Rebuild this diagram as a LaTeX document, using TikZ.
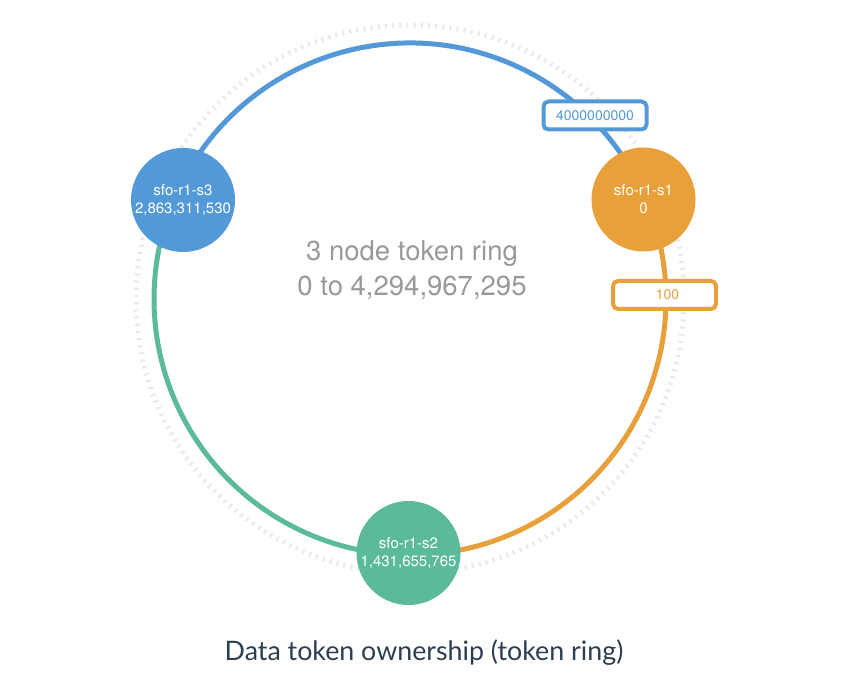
\documentclass[tikz,border=0pt]{standalone}
\usepackage{fontspec}
\setmainfont{TeX Gyre Heros}
\newfontfamily\latofont{Lato}
\usetikzlibrary{backgrounds}
\definecolor{ringblue}{RGB}{83,153,216}
\definecolor{ringorange}{RGB}{232,160,58}
\definecolor{ringgreen}{RGB}{91,186,155}
\definecolor{dashgrey}{RGB}{232,235,235}
\definecolor{labelgrey}{RGB}{153,153,153}
\definecolor{captionblue}{RGB}{44,62,80}
\begin{document}
\begin{tikzpicture}[x=1pt, y=1pt]
        \tikzstyle{server}=[circle, inner sep=0pt, minimum size=104pt, text=white, align=center, font=\fontsize{15}{18}\selectfont]
        \tikzstyle{token}=[fill=white, line width=4pt, rounded corners=5pt, inner sep=0pt, minimum width=103pt, minimum height=28pt, font=\fontsize{14}{16}\selectfont]
        \tikzstyle{ringarc}=[line width=5pt]
        \useasboundingbox (0,0) rectangle (866,698);
        \coordinate (c) at (410,399);
        % points on the ring under each server
        \coordinate (p1) at ([shift={(23.1:256)}]c);
        \coordinate (p2) at ([shift={(270:256)}]c);
        \coordinate (p3) at ([shift={(156.4:256)}]c);
        % servers
        \node [server, fill=ringorange] (s1) at (643.5,498.5) {sfo-r1-s1\\0};
        \node [server, fill=ringgreen] (s2) at (408.5,145) {sfo-r1-s2\\1,431,655,765};
        \node [server, fill=ringblue] (s3) at (183,498) {sfo-r1-s3\\2,863,311,530};
        \begin{scope}[on background layer]
        \draw [line width=5pt, dashgrey, dash pattern=on 2.2pt off 5pt] (c) circle [radius=274];
        \draw [ringarc, ringblue] (p3) arc [start angle=156.4, end angle=23.1, radius=256];
        \draw [ringarc, ringorange] (p1) arc [start angle=23.1, end angle=-90, radius=256];
        \draw [ringarc, ringgreen] (p2) arc [start angle=270, end angle=156.4, radius=256];
        \end{scope}
        % token labels
        \node [token, draw=ringblue, text=ringblue] (t4g) at (595,582.5) {4000000000};
        \node [token, draw=ringorange, text=ringorange] (t100) at (664.5,403) {\hspace{6pt}100};
        \node [labelgrey, align=center, font=\fontsize{27.5}{35}\selectfont] (title) at (412,427.5) {3 node token ring\\0 to 4,294,967,295};
        \node [captionblue, font=\latofont\fontsize{26.8}{30}\selectfont] (caption) at (424,45) {Data token ownership (token ring)};
\end{tikzpicture}
\end{document}
